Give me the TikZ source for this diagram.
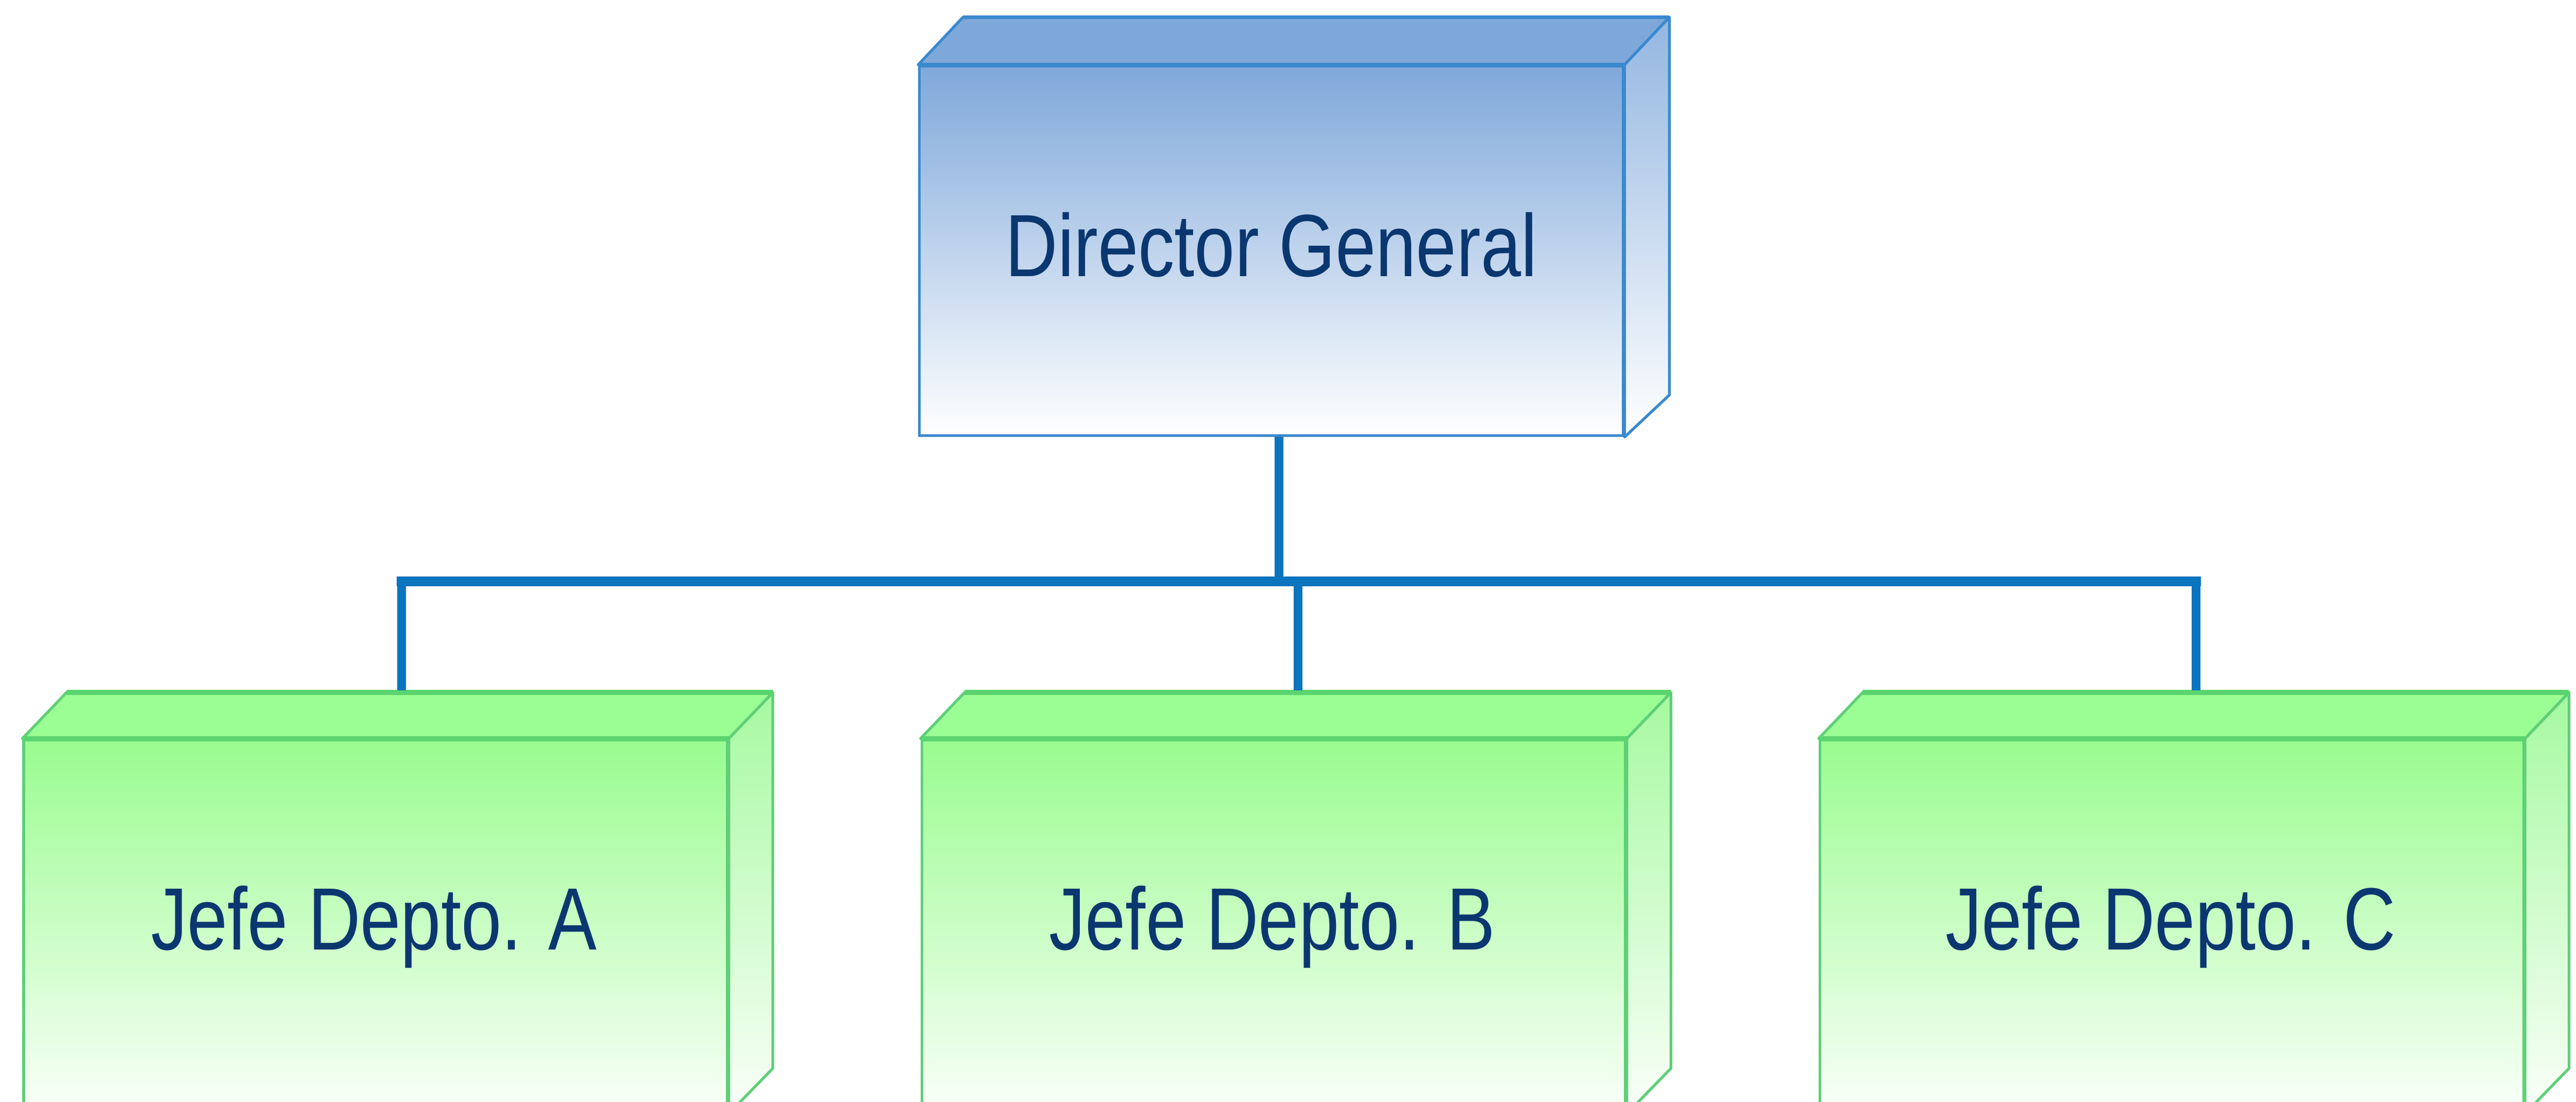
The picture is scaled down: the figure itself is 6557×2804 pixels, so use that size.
\documentclass[tikz,border=0pt]{standalone}
\usepackage{fontspec}
\newfontfamily\boxfont{Liberation Sans}[FakeStretch=0.82]
\definecolor{dirEdge}{HTML}{3A89CF}
\definecolor{dirTop}{HTML}{7EA8DA}
\definecolor{dirFrontTop}{HTML}{7FA8DA}
\definecolor{dirRight}{HTML}{93B6E0}
\definecolor{grEdge}{HTML}{5FCF78}
\definecolor{grEdgeTop}{HTML}{5AD46E}
\definecolor{grTop}{HTML}{9BFE94}
\definecolor{grFrontTop}{HTML}{99FC8F}
\definecolor{grFrontBot}{HTML}{FAFFF9}
\definecolor{grRight}{HTML}{A6F9A0}
\definecolor{txtCol}{HTML}{0B3770}
\definecolor{connCol}{HTML}{0A74BE}
\tikzset{
  front/.style={rectangle, anchor=north west, inner sep=0pt, minimum width=17.9cm, line width=2pt},
  dirfront/.style={front, minimum height=9.40cm, top color=dirFrontTop, bottom color=white, draw=dirEdge},
  grfront/.style={front, minimum height=9.47cm, top color=grFrontTop, bottom color=grFrontBot, draw=grEdge},
  dirtop/.style={fill=dirTop, draw=dirEdge, line width=2pt, line join=round},
  dirside/.style={top color=dirRight, bottom color=white, draw=dirEdge, line width=2pt, line join=round},
  diredge/.style={draw=dirEdge, line width=2.9pt},
  grtop/.style={fill=grTop, draw=grEdge, line width=2pt, line join=round},
  grside/.style={top color=grRight, bottom color=grFrontBot, draw=grEdge, line width=2pt, line join=round},
  gredge/.style={draw=grEdgeTop, line width=3.6pt},
  lbl/.style={font=\boxfont\fontsize{64}{72}\selectfont, text=txtCol, inner sep=0pt, anchor=base},
  connline/.style={draw=connCol, line width=6.3pt},
  barline/.style={draw=connCol, line width=7.2pt, line cap=rect}
}
\newcommand\drawprism[5]{%
  \path[#5top] (#1.north west) -- ([shift={(#2,#3)}]#1.north west) -- ([shift={(#2,#3)}]#1.north east) -- (#1.north east) -- cycle;
  \path[#5side] (#1.north east) -- ([shift={(#2,#3)}]#1.north east) -- ([shift={(#2,#4)}]#1.south east) -- (#1.south east) -- cycle;
  \draw[#5edge] (#1.north west) -- (#1.north east);
  \draw[#5edge] ([shift={(#2,#3)}]#1.north west) -- ([shift={(#2,#3)}]#1.north east);
}
\begin{document}
\begin{tikzpicture}[x=0.01cm, y=-0.01cm]
\useasboundingbox (0,0) rectangle (6557,2804);
\clip (0,0) rectangle (6557,2804);
\fill[white] (0,0) rectangle (6557,2804);

% Director
\node[dirfront] (dir) at (2337,165) {};
\drawprism{dir}{1.14cm}{1.21cm}{1.07cm}{dir}
\node[lbl] (dirT) at (3236,704) {Director General};

% Departments
\node[grfront] (a) at (57,1880) {};
\node[grfront] (b) at (2343,1880) {};
\node[grfront] (c) at (4629,1880) {};
\drawprism{a}{1.12cm}{1.17cm}{1.15cm}{gr}
\drawprism{b}{1.12cm}{1.17cm}{1.15cm}{gr}
\drawprism{c}{1.12cm}{1.17cm}{1.15cm}{gr}
\node[lbl] (aT) at (952,2418) {Jefe Depto. A};
\node[lbl] (bT) at (3238,2418) {Jefe Depto. B};
\node[lbl] (cT) at (5525,2418) {Jefe Depto. C};

% Connectors
\coordinate (bar) at (3252,1480);
\coordinate (tA) at ([shift={(9.65cm,1.23cm)}]a.north west);
\coordinate (tB) at ([shift={(9.61cm,1.23cm)}]b.north west);
\coordinate (tC) at ([shift={(9.60cm,1.23cm)}]c.north west);
\draw[connline] ([xshift=0.19cm]dir.south) -- ([xshift=0.19cm]dir.south |- bar);
\draw[connline] (tA |- bar) -- (tA);
\draw[connline] (tB |- bar) -- (tB);
\draw[connline] (tC |- bar) -- (tC);
\draw[barline] (tA |- bar) -- (tC |- bar);
\end{tikzpicture}
\end{document}
